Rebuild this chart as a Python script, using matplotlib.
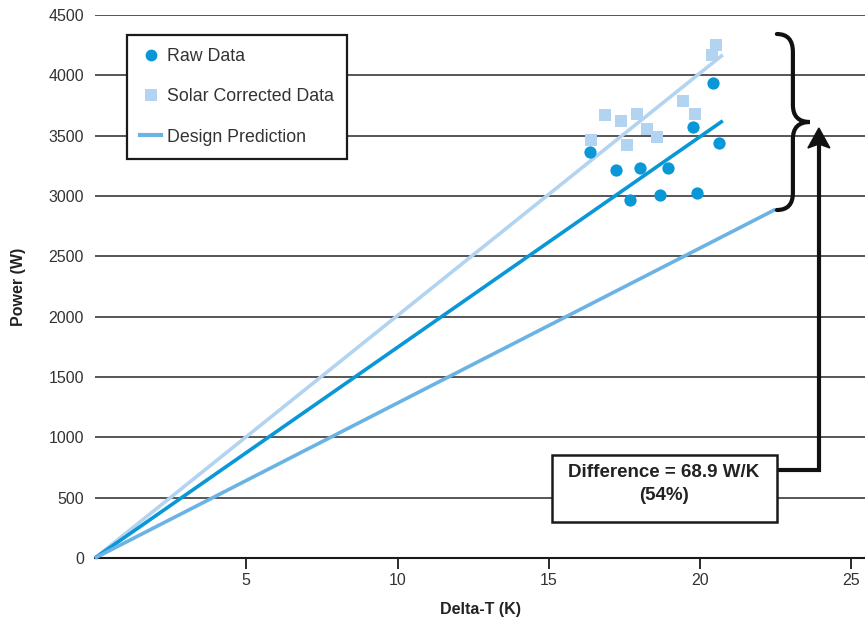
import numpy as np
import matplotlib
matplotlib.use('Agg')
from matplotlib import pyplot as plt
from matplotlib.path import Path
from matplotlib.patches import PathPatch, Rectangle, Polygon
from matplotlib.lines import Line2D

plt.rcParams['font.family'] = ['Liberation Sans', 'DejaVu Sans']

# raw measurements
raw_dt = [16.36, 17.22, 17.68, 18.01, 18.67, 18.94, 19.76, 19.89, 20.44, 20.64]
raw_p = [3367, 3217, 2968, 3234, 3010, 3234, 3574, 3027, 3939, 3441]

# solar corrected measurements
sol_dt = [16.39, 16.85, 17.38, 17.58, 17.91, 18.24, 18.57, 19.43, 19.83, 20.39, 20.53]
sol_p = [3466, 3673, 3624, 3425, 3682, 3557, 3491, 3789, 3682, 4171, 4254]

# fitted / predicted lines (start, end)
raw_fit_dt = [0, 20.75]
raw_fit_p = [0, 3623]
sol_fit_dt = [0, 20.75]
sol_fit_p = [0, 4170]
design_dt = [0, 22.5]
design_p = [0, 2890]

C_RAW = '#0a97d7'
C_SOL = '#b3d4f1'
C_DES = '#6ab3e4'

fig = plt.figure(figsize=(8.65, 6.26), dpi=100)
W, H = 865, 626
ax = fig.add_axes([95 / W, (H - 558) / H, (865 - 95) / W, (558 - 15) / H])
ax.set_xlim(0, 25.45)
ax.set_ylim(0, 4500)

# pixel -> data helper for the annotation shapes
def px(x, y):
    return ((x - 95) / 30.26, (558 - y) / 0.12067)

for yv in range(500, 4501, 500):
    ax.axhline(yv, color='#3a3a3a', linewidth=1.2, zorder=1)

ax.plot(sol_fit_dt, sol_fit_p, color=C_SOL, linewidth=2.6, zorder=3, clip_on=False, solid_capstyle='butt')
ax.plot(raw_fit_dt, raw_fit_p, color=C_RAW, linewidth=2.6, zorder=3, clip_on=False, solid_capstyle='butt')
ax.plot(design_dt, design_p, color=C_DES, linewidth=2.6, zorder=3, clip_on=False, solid_capstyle='butt')

ax.scatter(sol_dt, sol_p, marker='s', s=70, color=C_SOL, linewidths=0, zorder=4)
ax.scatter(raw_dt, raw_p, marker='o', s=78, color=C_RAW, linewidths=0, zorder=5)

for s in ['top', 'right', 'left']:
    ax.spines[s].set_visible(False)
ax.spines['bottom'].set_color('#1a1a1a')
ax.spines['bottom'].set_linewidth(1.5)
ax.spines['bottom'].set_zorder(2)

ax.set_xticks([5, 10, 15, 20, 25])
ax.set_yticks(range(0, 4501, 500))
ax.tick_params(axis='x', direction='out', length=8, width=1.3, color='#1a1a1a',
               labelsize=11.5, labelcolor='#333333', pad=3)
ax.tick_params(axis='y', length=0, labelsize=11.5, labelcolor='#333333', pad=8)

ax.set_xlabel('Delta-T (K)', fontsize=11.5, fontweight='bold', color='#222222', labelpad=10)
ax.set_ylabel('Power (W)', fontsize=11.5, fontweight='bold', color='#222222', labelpad=16)

# legend
handles = [
    Line2D([], [], marker='o', linestyle='none', markersize=8.5, color=C_RAW, markeredgewidth=0),
    Line2D([], [], marker='s', linestyle='none', markersize=8.5, color=C_SOL, markeredgewidth=0),
    Line2D([], [], color=C_DES, linewidth=3),
]
leg = ax.legend(handles, ['Raw Data', 'Solar Corrected Data', 'Design Prediction'],
                loc='upper left', bbox_to_anchor=(127 / W, 1 - 35 / H), bbox_transform=fig.transFigure,
                borderaxespad=0, fontsize=12.8, frameon=True, fancybox=False, handlelength=1.15,
                handletextpad=0.35, labelspacing=1.3, borderpad=0.75, labelcolor='#333333')
leg.get_frame().set_edgecolor('#1a1a1a')
leg.get_frame().set_linewidth(1.6)
leg.get_frame().set_alpha(1)
leg.set_zorder(10)

# curly brace
pts = [px(777, 34), px(793, 34), px(793, 52), px(793, 105), px(793, 122), px(810, 122),
       px(793, 122), px(793, 139), px(793, 193), px(793, 210), px(777, 210)]
codes = [Path.MOVETO, Path.CURVE3, Path.CURVE3, Path.LINETO, Path.CURVE3, Path.CURVE3,
         Path.CURVE3, Path.CURVE3, Path.LINETO, Path.CURVE3, Path.CURVE3]
ax.add_patch(PathPatch(Path(pts, codes), facecolor='none', edgecolor='#111111',
                       linewidth=3, clip_on=False, zorder=6, capstyle='round'))

# arrow from box to brace tip
x0, y0 = px(777, 470)
x1, _ = px(819, 470)
_, y1 = px(819, 142)
ax.plot([x0, x1, x1], [y0, y0, y1], color='#111111', linewidth=3, clip_on=False, zorder=6,
        solid_joinstyle='miter')
ax.add_patch(Polygon([px(819, 128), px(808, 148), px(819, 144), px(830, 148)], closed=True,
                     color='#111111', clip_on=False, zorder=6))

# difference box
bx0, by0 = px(552, 522)
bx1, by1 = px(777, 455)
ax.add_patch(Rectangle((bx0, by0), bx1 - bx0, by1 - by0, facecolor='white', edgecolor='#1a1a1a',
                       linewidth=1.8, zorder=7))
tx, ty = px(664, 484)
ax.text(tx, ty, 'Difference = 68.9 W/K\n(54%)', ha='center', va='center',
        fontsize=13.5, fontweight='bold', color='#222222', zorder=8, linespacing=1.5)

fig.savefig('out.png', dpi=100)
